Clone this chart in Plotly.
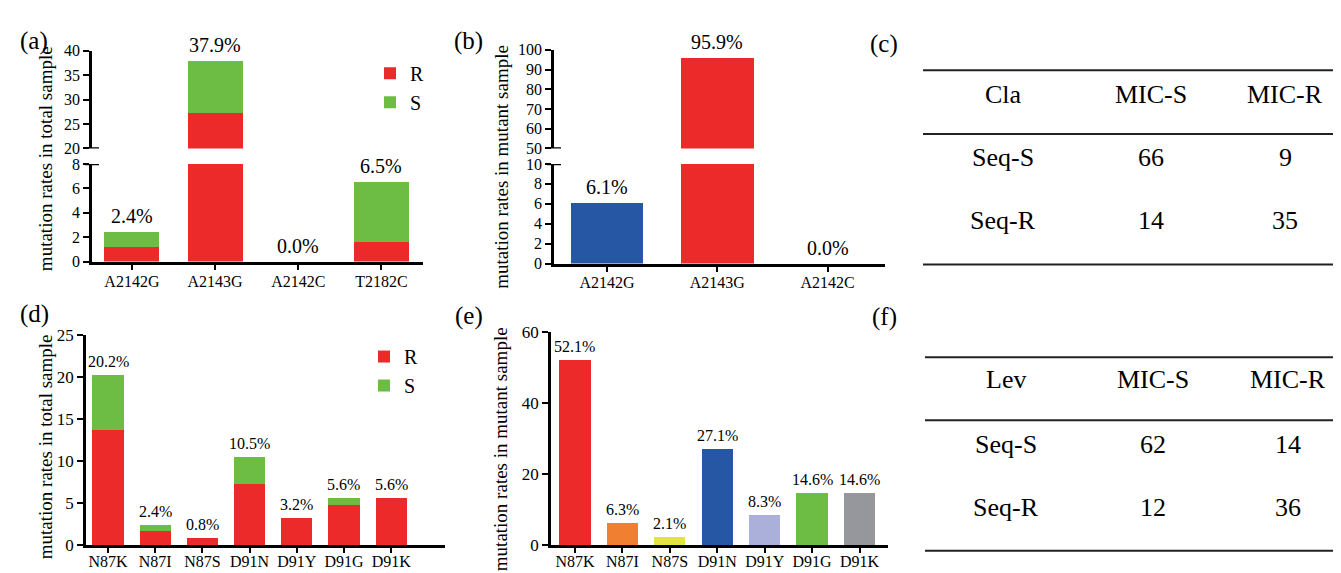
import plotly.graph_objects as go

W, H = 1341, 573
FONT = "Liberation Serif"

# ---------------- data ----------------
# (a) 23S rRNA mutations, total sample (stacked R / S)
a_cats = ["A2142G", "A2143G", "A2142C", "T2182C"]
a_R = [1.2, 27.3, 0.0, 1.6]
a_S = [1.2, 10.6, 0.0, 4.9]

# (b) mutant sample
b_cats = ["A2142G", "A2143G", "A2142C"]
b_vals = [6.1, 95.9, 0.0]
b_colors = ["#2657A5", "#EC2A2A", "#EC2A2A"]

# (d) gyrA mutations, total sample (stacked R / S)
d_cats = ["N87K", "N87I", "N87S", "D91N", "D91Y", "D91G", "D91K"]
d_R = [13.7, 1.6, 0.8, 7.2, 3.2, 4.8, 5.6]
d_S = [6.5, 0.8, 0.0, 3.3, 0.0, 0.8, 0.0]

# (e) mutant sample
e_cats = ["N87K", "N87I", "N87S", "D91N", "D91Y", "D91G", "D91K"]
e_vals = [52.1, 6.3, 2.1, 27.1, 8.3, 14.6, 14.6]
e_colors = ["#EC2A2A", "#F07F32", "#E4E43E", "#2657A5", "#AAB0DA", "#6DBD45", "#95979D"]

# (c) and (f) tables
c_header = ["Cla", "MIC-S", "MIC-R"]
c_rows = [["Seq-S", "66", "9"], ["Seq-R", "14", "35"]]
f_header = ["Lev", "MIC-S", "MIC-R"]
f_rows = [["Seq-S", "62", "14"], ["Seq-R", "12", "36"]]

RED = "#EC2A2A"
GREEN = "#6DBD45"

# ---------------- helpers ----------------
def fx(px):
    return px / W


def fy(py):
    return 1 - py / H


def xax(left, right, rng, anchor, visible=True, size=16, ticklen=6):
    return dict(
        domain=[fx(left), fx(right)], range=rng, type="category", anchor=anchor,
        visible=visible, showline=True, linewidth=2.5, linecolor="black",
        ticks="outside", ticklen=ticklen, tickwidth=2, tickcolor="black",
        showgrid=False, zeroline=False, fixedrange=True,
        tickfont=dict(family=FONT, size=size, color="black"),
    )


def yax(top, bot, rng, dtick, anchor, size=16):
    return dict(
        domain=[fy(bot), fy(top)], range=rng, dtick=dtick, tick0=rng[0], anchor=anchor,
        showline=True, linewidth=2.5, linecolor="black",
        ticks="outside", ticklen=6, tickwidth=2, tickcolor="black",
        showgrid=False, zeroline=False, fixedrange=True,
        tickfont=dict(family=FONT, size=size, color="black"),
    )


fig = go.Figure()

BW = 0.66
# (a) lower + upper segments
for xa, ya, show in [("x", "y", True), ("x2", "y2", False)]:
    fig.add_trace(go.Bar(x=a_cats, y=a_R, name="R", marker_color=RED, width=BW,
                         xaxis=xa, yaxis=ya, showlegend=show, legend="legend",
                         marker_line_width=0))
    fig.add_trace(go.Bar(x=a_cats, y=a_S, name="S", marker_color=GREEN, width=BW,
                         xaxis=xa, yaxis=ya, showlegend=show, legend="legend",
                         marker_line_width=0))
# (b)
for xa, ya in [("x3", "y3"), ("x4", "y4")]:
    fig.add_trace(go.Bar(x=b_cats, y=b_vals, marker_color=b_colors, width=BW,
                         xaxis=xa, yaxis=ya, showlegend=False, marker_line_width=0))
# (d)
fig.add_trace(go.Bar(x=d_cats, y=d_R, name="R", marker_color=RED, width=BW,
                     xaxis="x5", yaxis="y5", legend="legend2", marker_line_width=0))
fig.add_trace(go.Bar(x=d_cats, y=d_S, name="S", marker_color=GREEN, width=BW,
                     xaxis="x5", yaxis="y5", legend="legend2", marker_line_width=0))
# (e)
fig.add_trace(go.Bar(x=e_cats, y=e_vals, marker_color=e_colors, width=BW,
                     xaxis="x6", yaxis="y6", showlegend=False, marker_line_width=0))

annotations = []
shapes = []


def txt_font(size):
    return dict(family=FONT, size=size, color="black")


# percentage labels
def pct_labels(cats, totals, lower_ref, upper_ref, lower_max, size):
    for c, t in zip(cats, totals):
        xr, yr = lower_ref
        if upper_ref is not None and t > lower_max:
            xr, yr = upper_ref
        annotations.append(dict(x=c, y=t, xref=xr, yref=yr, text=f"{t:.1f}%",
                                showarrow=False, xanchor="center", yanchor="bottom", yshift=3,
                                font=txt_font(size)))


a_tot = [round(r + s, 1) for r, s in zip(a_R, a_S)]
d_tot = [round(r + s, 1) for r, s in zip(d_R, d_S)]
pct_labels(a_cats, a_tot, ("x", "y"), ("x2", "y2"), 8, 20)
pct_labels(b_cats, b_vals, ("x3", "y3"), ("x4", "y4"), 10, 20)
pct_labels(d_cats, d_tot, ("x5", "y5"), None, 25, 16)
pct_labels(e_cats, e_vals, ("x6", "y6"), None, 60, 16)

# y-axis titles
for txt, x, y in [("mutation rates in total sample", 37, 147),
                  ("mutation rates in mutant sample", 494, 155),
                  ("mutation rates in total sample", 37, 445),
                  ("mutation rates in mutant sample", 492, 447)]:
    annotations.append(dict(x=fx(x), y=fy(y), xref="paper", yref="paper", text=txt,
                            textangle=-90, showarrow=False, xanchor="center", yanchor="middle",
                            font=txt_font(19)))

# panel letters
for txt, x, y in [("(a)", 26, 25), ("(b)", 460, 25), ("(c)", 876, 28),
                  ("(d)", 26, 307), ("(e)", 461, 309), ("(f)", 876, 310)]:
    annotations.append(dict(x=fx(x), y=fy(y), xref="paper", yref="paper", text=txt,
                            showarrow=False, xanchor="center", yanchor="middle",
                            font=txt_font(25)))

# axis break marks
for ax_px, y_ref, y_val in [(84, "y2", 20), (84, "y", 8), (546, "y4", 50), (546, "y3", 10)]:
    shapes.append(dict(type="line", xref="paper", yref=y_ref, x0=fx(ax_px - 7), x1=fx(ax_px + 7),
                       y0=y_val, y1=y_val, line=dict(color="black", width=2.5)))


# tables
def table(header, rows, x_left, line_ys, col_xs, row_ys):
    for ly in line_ys:
        shapes.append(dict(type="line", xref="paper", yref="paper", x0=fx(x_left), x1=1,
                           y0=fy(ly), y1=fy(ly), line=dict(color="#222222", width=2)))
    for r, cells in enumerate([header] + rows):
        for c, txt in enumerate(cells):
            annotations.append(dict(x=fx(col_xs[c]), y=fy(row_ys[r]), xref="paper", yref="paper",
                                    text=txt, showarrow=False, xanchor="center", yanchor="middle",
                                    font=txt_font(26)))


table(c_header, c_rows, 915, [55, 121, 256], [995, 1143, 1277], [80, 145, 210])
table(f_header, f_rows, 917, [352, 417, 552], [998, 1145, 1280], [375, 442, 507])

fig.update_layout(
    width=W, height=H, margin=dict(l=0, r=0, t=0, b=0),
    plot_bgcolor="white", paper_bgcolor="white", barmode="stack",
    font=dict(family=FONT, color="black"),
    xaxis=xax(84, 415, [-0.48, 3.5], "y"),
    yaxis=yax(152, 253, [0, 8], 2, "x"),
    xaxis2=xax(84, 415, [-0.48, 3.5], "y2", visible=False),
    yaxis2=yax(35, 136, [20, 40], 5, "x2"),
    xaxis3=xax(546, 877, [-0.48, 2.52], "y3"),
    yaxis3=yax(152, 255, [0, 10], 2, "x3"),
    xaxis4=xax(546, 877, [-0.48, 2.52], "y4", visible=False),
    yaxis4=yax(34, 136, [50, 100], 10, "x4"),
    xaxis5=xax(78, 437, [-0.466, 7.14], "y5", size=16, ticklen=5),
    yaxis5=yax(329, 546, [0, 25], 5, "x5", size=17),
    xaxis6=xax(543, 880, [-0.505, 6.6], "y6", size=16, ticklen=5),
    yaxis6=yax(326, 546, [0, 60], 20, "x6", size=17),
    legend=dict(x=fx(362), y=fy(38), xanchor="left", yanchor="top", traceorder="normal",
                font=txt_font(20), bgcolor="rgba(0,0,0,0)", tracegroupgap=0),
    legend2=dict(x=fx(356), y=fy(331), xanchor="left", yanchor="top", traceorder="normal",
                 font=txt_font(20), bgcolor="rgba(0,0,0,0)", tracegroupgap=0),
    annotations=annotations, shapes=shapes,
)
fig.update_xaxes(ticklabelstandoff=-3)
fig.update_layout(xaxis5_ticklabelstandoff=-5, xaxis6_ticklabelstandoff=-5)

fig.write_html("out.html")
